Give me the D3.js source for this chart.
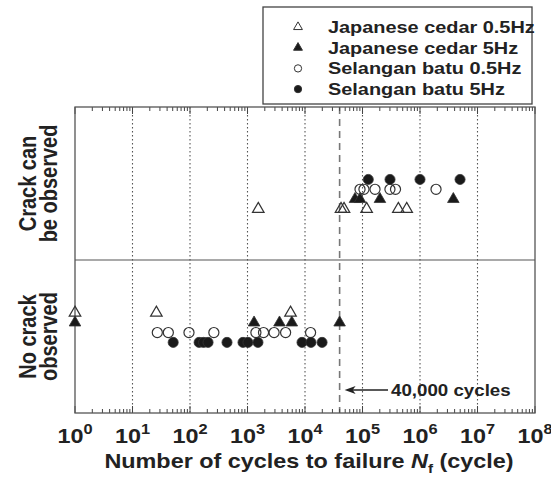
<!DOCTYPE html>
<html>
<head>
<meta charset="utf-8">
<script src="https://cdn.jsdelivr.net/npm/d3@7"></script>
<style>
  body { margin: 0; background: #fff; }
  text { font-family: "Liberation Sans", Arial, Helvetica, sans-serif; font-weight: bold; fill: #222; }
</style>
</head>
<body>
<svg id="chart"></svg>
<script>
// cycles to failure
const seriesNames = ['Japanese cedar 0.5Hz', 'Japanese cedar 5Hz', 'Selangan batu 0.5Hz', 'Selangan batu 5Hz']
const cedar05NoCrack = [1, 26, 5600]
const cedar05Crack = [1540, 42300, 47700, 118000, 420000, 587000]
const cedar5NoCrack = [1, 1300, 3600, 5900, 40000]
const cedar5Crack = [74000, 90500, 201000, 3800000]
const batu05NoCrack = [27, 42, 96, 260, 1400, 1900, 2900, 4600, 12500]
const batu05Crack = [90500, 106000, 165000, 300000, 375000, 1900000]
const batu5NoCrack = [51, 144, 172, 206, 440, 835, 1020, 1520, 8870, 12700, 19800]
const batu5Crack = [126000, 301000, 1000000, 4970000]
const xTickValues = [1e0, 1e1, 1e2, 1e3, 1e4, 1e5, 1e6, 1e7, 1e8]
const markerLine = 40000

const width = 551, height = 477
const margin = { left: 75, right: 16, top: 107, bottom: 64 }
// the source figure's lettering is a bit wider than it is tall
const STRETCH = 1.17

const svg = d3.select('#chart').attr('width', width).attr('height', height)

const x = d3.scaleLog().domain([1, 1e8]).range([margin.left, width - margin.right])
// 0..1 = no crack, 1..2 = crack observed
const y = d3.scaleLinear().domain([0, 2]).range([height - margin.bottom, margin.top])

const series = [
  { name: seriesNames[0], noCrack: cedar05NoCrack, crack: cedar05Crack, shape: d3.symbolTriangle, filled: false, level: 0 },
  { name: seriesNames[1], noCrack: cedar5NoCrack, crack: cedar5Crack, shape: d3.symbolTriangle, filled: true, level: 1 },
  { name: seriesNames[2], noCrack: batu05NoCrack, crack: batu05Crack, shape: d3.symbolCircle, filled: false, level: 2 },
  { name: seriesNames[3], noCrack: batu5NoCrack, crack: batu5Crack, shape: d3.symbolCircle, filled: true, level: 3 }
]
const levelStep = 0.0645

const x0 = x.range()[0], x1 = x.range()[1]
const yTop = y(2), yBot = y(0)

const place = (tx, ty, rot) => `translate(${tx},${ty}) scale(${STRETCH},1)` + (rot ? ` rotate(${rot})` : '')

// decade grid
svg.append('g')
  .selectAll('line')
  .data(xTickValues.slice(1, -1))
  .join('line')
    .attr('x1', d => x(d)).attr('x2', d => x(d))
    .attr('y1', yTop).attr('y2', yBot)
    .attr('stroke', '#555')
    .attr('stroke-width', 1.1)
    .attr('stroke-dasharray', '1.5,2.5')

// 40,000 cycles line
svg.append('line')
  .attr('x1', x(markerLine)).attr('x2', x(markerLine))
  .attr('y1', yTop).attr('y2', yBot)
  .attr('stroke', '#777')
  .attr('stroke-width', 1.6)
  .attr('stroke-dasharray', '7,5')

// minor and major ticks, top and bottom, pointing in
const minorTicks = []
for (let e = 0; e < 8; e++) {
  for (let m = 2; m <= 9; m++) minorTicks.push(m * Math.pow(10, e))
}
const tickG = svg.append('g').attr('stroke', '#444').attr('stroke-width', 1)
tickG.selectAll('.tb').data(minorTicks).join('line')
  .attr('class', 'tb')
  .attr('x1', d => x(d)).attr('x2', d => x(d))
  .attr('y1', yBot).attr('y2', yBot - 4)
tickG.selectAll('.tt').data(minorTicks).join('line')
  .attr('class', 'tt')
  .attr('x1', d => x(d)).attr('x2', d => x(d))
  .attr('y1', yTop).attr('y2', yTop + 4)
tickG.selectAll('.mb').data(xTickValues).join('line')
  .attr('class', 'mb')
  .attr('x1', d => x(d)).attr('x2', d => x(d))
  .attr('y1', yBot).attr('y2', yBot - 7)
tickG.selectAll('.mt').data(xTickValues).join('line')
  .attr('class', 'mt')
  .attr('x1', d => x(d)).attr('x2', d => x(d))
  .attr('y1', yTop).attr('y2', yTop + 7)

// frame and divider
svg.append('rect')
  .attr('x', x0).attr('y', yTop)
  .attr('width', x1 - x0).attr('height', yBot - yTop)
  .attr('fill', 'none').attr('stroke', '#555').attr('stroke-width', 1.3)
svg.append('line')
  .attr('x1', x0).attr('x2', x1)
  .attr('y1', y(1)).attr('y2', y(1))
  .attr('stroke', '#555').attr('stroke-width', 1.2)

// tick labels 10^n
const labels = svg.append('g')
  .selectAll('text')
  .data(xTickValues)
  .join('text')
    .attr('transform', d => place(x(d), 443))
    .attr('text-anchor', 'middle')
    .style('font-size', '20px')
labels.append('tspan').text('10')
labels.append('tspan')
  .attr('dy', -9)
  .style('font-size', '14px')
  .text(d => Math.round(Math.log10(d)))

// axis title
const title = svg.append('text')
  .attr('transform', place((x0 + x1) / 2 + 4, 468))
  .attr('text-anchor', 'middle')
  .style('font-size', '20px')
title.append('tspan').text('Number of cycles to failure ')
title.append('tspan').style('font-style', 'italic').text('N')
title.append('tspan').attr('dy', 5).style('font-size', '13px').text('f')
title.append('tspan').attr('dy', -5).text(' (cycle)')

// row labels
function rowLabel(lines, cy) {
  const xs = [36, 57]
  lines.forEach((s, i) => {
    svg.append('text')
      .attr('transform', place(xs[i], cy, -90))
      .attr('text-anchor', 'middle')
      .style('font-size', '20px')
      .text(s)
  })
}
rowLabel(['Crack can', 'be observed'], y(1.5))
rowLabel(['No crack', 'observed'], y(0.5))

// points
const symbolPath = (shape, size) => d3.symbol().type(shape).size(size)()
series.forEach(s => {
  const g = svg.append('g')
  const pts = s.noCrack.map(v => ({ v, lv: 0.655 - s.level * levelStep }))
    .concat(s.crack.map(v => ({ v, lv: 1.333 + s.level * levelStep })))
  g.selectAll('path')
    .data(pts)
    .join('path')
      .attr('transform', d => `translate(${x(d.v)},${y(d.lv)})`)
      .attr('d', symbolPath(s.shape, s.shape === d3.symbolCircle ? 80 : 58))
      .attr('fill', s.filled ? '#1a1a1a' : 'none')
      .attr('stroke', '#333')
      .attr('stroke-width', s.filled ? 0.8 : 1.2)
})

// 40,000 cycles annotation
const ay = 390
svg.append('line')
  .attr('x1', x(markerLine) + 12).attr('x2', 388)
  .attr('y1', ay).attr('y2', ay)
  .attr('stroke', '#222').attr('stroke-width', 1.3)
svg.append('path')
  .attr('d', `M${x(markerLine) + 5},${ay} l11,-4 l-3,4 l3,4 z`)
  .attr('fill', '#222')
svg.append('text')
  .attr('transform', place(391, ay + 6))
  .style('font-size', '16px')
  .text('40,000 cycles')

// legend
const legend = svg.append('g')
legend.append('rect')
  .attr('x', 263).attr('y', 7)
  .attr('width', 269).attr('height', 97)
  .attr('fill', '#fff').attr('stroke', '#444').attr('stroke-width', 1.3)
const rows = legend.selectAll('.row')
  .data(series)
  .join('g')
    .attr('class', 'row')
    .attr('transform', (d, i) => `translate(0,${27 + i * 20.7})`)
rows.append('path')
  .attr('transform', 'translate(298,0)')
  .attr('d', d => symbolPath(d.shape, d.shape === d3.symbolCircle ? 42 : 34))
  .attr('fill', d => d.filled ? '#1a1a1a' : 'none')
  .attr('stroke', '#333')
  .attr('stroke-width', 1)
rows.append('text')
  .attr('transform', place(328, 6))
  .style('font-size', '17px')
  .text(d => d.name)
</script>
</body>
</html>
